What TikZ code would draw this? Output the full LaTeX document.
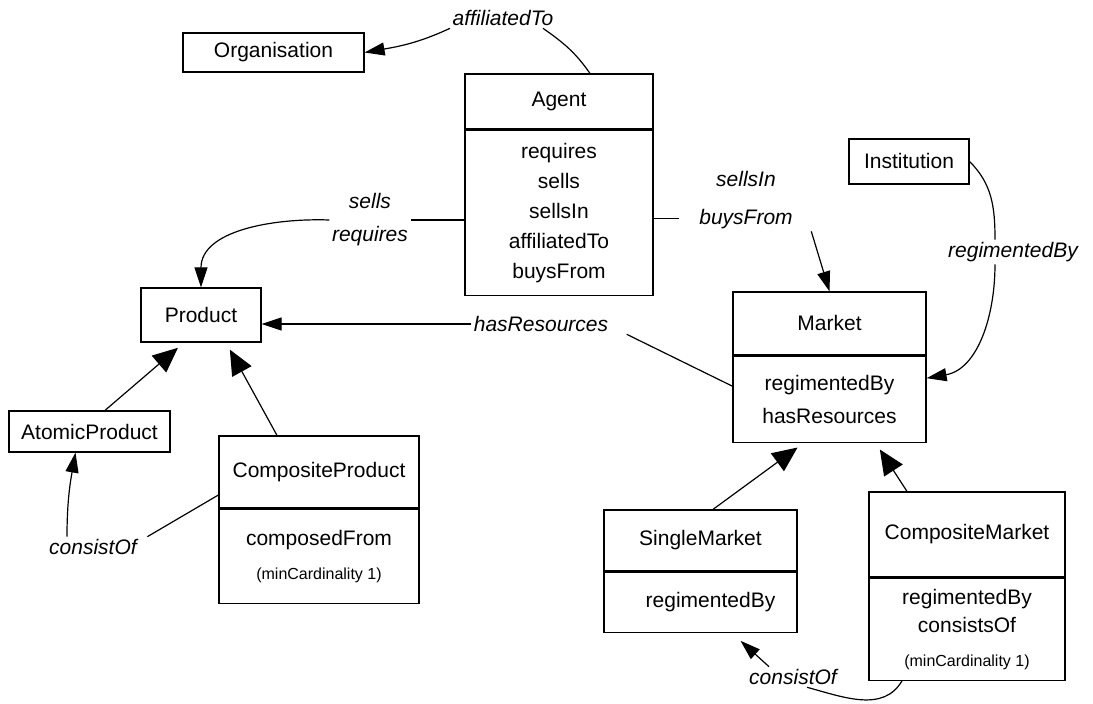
\documentclass[tikz,border=0pt]{standalone}
\usepackage{fontspec}
\setmainfont{Liberation Sans}
\usetikzlibrary{positioning,arrows.meta}
\begin{document}
\begin{tikzpicture}
		[	x=0.5pt,y=0.5pt,line width=0.6pt,
		cls/.style={rectangle,draw=black,fill=white,inner sep=0pt,font=\fontsize{10.5}{15}\selectfont},
		body/.style={cls,align=center},
		role/.style={draw=none,fill=none,inner sep=1pt,align=center,font=\fontsize{10.5}{16.5}\selectfont\itshape},
		assoc/.style={-{Triangle[length=10pt,width=6.5pt]}},
		isa/.style={-{Triangle[length=12.5pt,width=11pt]},shorten >=4pt}
		]
		\useasboundingbox (0,0) rectangle (1093,-704);

		\node[cls,minimum width=90.5pt,minimum height=19.5pt] (organisation) at (273.5,-52.5){Organisation};
		\node[cls,minimum width=60pt,minimum height=22.5pt] (institution) at (909,-161.5){Institution};

		\node[cls,minimum width=94pt,minimum height=27.5pt] (agent) at (559,-101.5){Agent};
		\node[body,minimum width=94pt,minimum height=82.5pt,below=0pt of agent] (agentb){requires\\sells\\sellsIn\\affiliatedTo\\buysFrom};

		\node[cls,minimum width=60pt,minimum height=27pt] (product) at (201,-315){Product};
		\node[cls,minimum width=80.5pt,minimum height=20.5pt] (atomic) at (89.5,-431.5){AtomicProduct};
		\node[cls,minimum width=100pt,minimum height=36pt] (cproduct) at (319,-472){CompositeProduct};
		\node[body,minimum width=100pt,minimum height=47pt,below=0pt of cproduct] (cproductb){composedFrom\\[2pt]{\fontsize{8}{10}\selectfont (minCardinality 1)}};

		\node[cls,minimum width=96.5pt,minimum height=31.5pt] (market) at (829.5,-323.5){Market};
		\node[body,minimum width=96.5pt,minimum height=43pt,below=0pt of market] (marketb){regimentedBy\\[1.5pt]hasResources};
		\node[cls,minimum width=96.5pt,minimum height=30.5pt] (smarket) at (700.5,-540.5){SingleMarket};
		\node[body,minimum width=96.5pt,minimum height=30pt,below=0pt of smarket] (smarketb){\hspace{10pt}regimentedBy};
		\node[cls,minimum width=98pt,minimum height=42.5pt] (cmarket) at (967,-534.5){CompositeMarket};
		\node[body,minimum width=98pt,minimum height=51pt,below=0pt of cmarket] (cmarketb){regimentedBy\\[-1pt]consistsOf\\[2pt]{\fontsize{8}{10}\selectfont (minCardinality 1)}};

		\node[role] (lblAffiliated) at (503,-18){affiliatedTo};
		\node[role] (lblSells) at (370,-220){sells\\requires};
		\node[role] (lblSellsIn) at (746,-200){sellsIn\\[2.5pt]buysFrom};
		\node[role] (lblHasRes) at (541,-324){hasResources};
		\node[role] (lblRegimented) at (1013,-252){regimentedBy};
		\node[role] (lblConsistP) at (93,-547){consistOf};
		\node[role] (lblConsistM) at (793,-677){consistOf};

		\draw ([xshift=15.5pt]agent.north) to[out=125,in=-35] ([xshift=20pt]lblAffiliated.south);
		\draw[assoc] (lblAffiliated.south west) to[out=205,in=10] (organisation.east);

		\draw (agentb.west |- lblSells.east) -- (lblSells.east);
		\draw[assoc] (lblSells.west) to[out=178,in=90] (product.north);

		\draw ([yshift=-3pt]agentb.east) -- ([xshift=-9pt,yshift=-3pt]agentb.east -| lblSellsIn.west);
		\draw[assoc] ([xshift=8pt]lblSellsIn.south east) -- (market.north);

		\draw ([yshift=6.5pt]marketb.west) -- ([xshift=8pt]lblHasRes.south east);
		\draw[assoc] (lblHasRes.west) -- (product.east |- lblHasRes.west);

		\draw (institution.east) to[out=-45,in=90] ([xshift=-9pt]lblRegimented.north);
		\draw[assoc] ([xshift=-9pt]lblRegimented.south) to[out=-90,in=10] ([yshift=10.5pt]marketb.east);

		\draw[isa] ([xshift=7.75pt]atomic.north) -- ([xshift=-8.5pt]product.south);
		\draw[isa] ([xshift=-21pt]cproduct.north) -- ([xshift=12.5pt]product.south);
		\draw[isa] ([xshift=6.25pt]smarket.north) -- ([xshift=-12.75pt]marketb.south);
		\draw[isa] ([xshift=-30pt]cmarket.north) -- ([xshift=23pt]marketb.south);

		\draw ([yshift=-11.5pt]cproduct.west) -- ([xshift=4pt]lblConsistP.north east);
		\draw[assoc] ([xshift=-13pt]lblConsistP.north) to[out=90,in=-100] ([xshift=-7pt]atomic.south);

		\draw ([xshift=-32.5pt]cmarketb.south) to[out=-120,in=-15] ([xshift=7pt]lblConsistM.south);
		\draw[assoc] ([xshift=-12pt]lblConsistM.north) -- ([xshift=20pt,yshift=-4pt]smarketb.south);
	\end{tikzpicture}
\end{document}
